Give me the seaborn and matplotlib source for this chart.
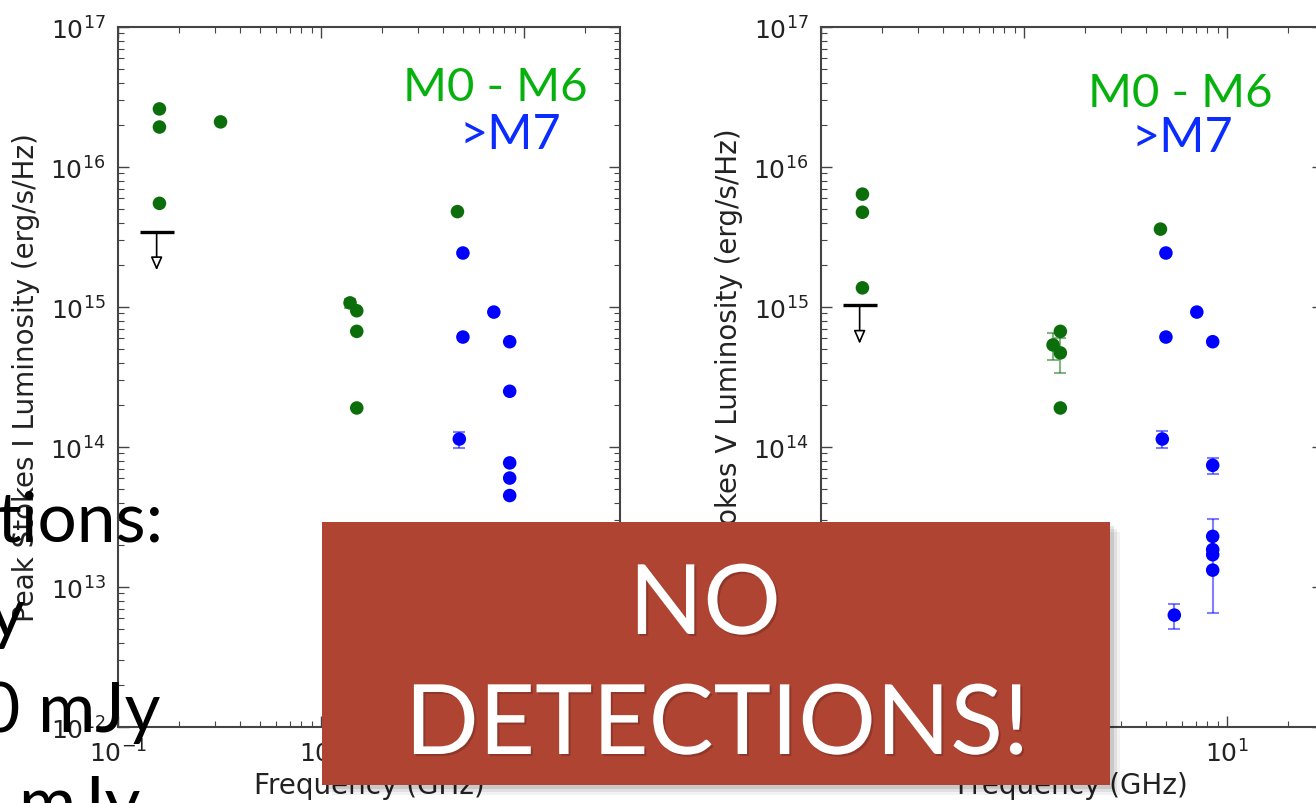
import numpy as np
import pandas as pd
import matplotlib
matplotlib.use('Agg')
import matplotlib.pyplot as plt
import matplotlib.patheffects as pe
import seaborn as sns
from matplotlib.patches import Rectangle

# ---- data ----
# left panel: peak Stokes I luminosity
mdw_freq_I = [0.16, 0.16, 0.16, 0.32, 1.39, 1.50, 1.50, 1.50, 4.7]
mdw_lum_I = [2.6e16, 1.93e16, 5.5e15, 2.1e16, 1.07e15, 9.4e14, 6.7e14, 1.9e14, 4.8e15]
mdw_err_I = [0, 0, 0, 0, 0.8e14, 0, 0, 0, 0]
ucd_freq_I = [5.0, 5.0, 7.1, 8.5, 8.5, 4.8, 8.5, 8.5, 8.5]
ucd_lum_I = [2.43e15, 6.1e14, 9.2e14, 5.65e14, 2.5e14, 1.14e14, 7.7e13, 6.0e13, 4.5e13]
ucd_err_I = [0, 0, 0, 0, 0, 1.5e13, 0, 0, 0]
limit_I = (0.155, 3.45e15)

# right panel: peak Stokes V luminosity
mdw_freq_V = [0.16, 0.16, 0.16, 1.39, 1.51, 1.51, 1.51, 4.7]
mdw_lum_V = [6.4e15, 4.75e15, 1.37e15, 5.36e14, 6.7e14, 4.7e14, 1.9e14, 3.6e15]
mdw_err_V = [0, 0, 0, 1.2e14, 0, 1.3e14, 0, 0]
ucd_freq_V = [5.0, 5.0, 7.1, 8.5, 4.8, 8.5, 8.5, 8.5, 8.5, 8.5, 5.5]
ucd_lum_V = [2.43e15, 6.1e14, 9.2e14, 5.65e14, 1.14e14, 7.4e13, 2.3e13, 1.85e13, 1.7e13, 1.32e13, 6.3e12]
ucd_err_V = [0, 0, 0, 0, 1.6e13, 1.0e13, 0, 1.2e13, 0, 0, 1.25e12]
limit_V = (0.155, 1.03e15)

slide_lines = ['tions:', 'y', '0 mJy', 'mJy']

GREEN = '#0b6e0b'
BLUE = '#0000ff'
W, H = 1316, 804


def fx(px):
    return px / W


def fy(py):
    return 1 - py / H


sns.set_style('ticks')
plt.rcParams['font.family'] = ['DejaVu Sans']

fig = plt.figure(figsize=(W / 100, H / 100), dpi=100)


def make_panel(left_px, mf, ml, me, uf, ul, ue, limit, ylabel, tag_pos):
    ax = fig.add_axes([fx(left_px), fy(728), 502 / W, 700 / H])
    df = pd.DataFrame({
        'freq': list(mf) + list(uf),
        'lum': list(ml) + list(ul),
        'cls': ['M0 - M6'] * len(mf) + ['>M7'] * len(uf),
    })
    # error bars first, faint
    for f, l, e, c in [(mf, ml, me, GREEN), (uf, ul, ue, BLUE)]:
        f, l, e = np.array(f), np.array(l), np.array(e)
        m = e > 0
        if m.any():
            ax.errorbar(f[m], l[m], yerr=e[m], fmt='none', ecolor=c, alpha=0.5,
                        capsize=4, elinewidth=1.5, capthick=1.5, zorder=2)
    sns.scatterplot(data=df, x='freq', y='lum', hue='cls',
                    palette={'M0 - M6': GREEN, '>M7': BLUE},
                    s=95, edgecolor='none', legend=False, ax=ax, zorder=3)
    # upper limit
    ax.plot([limit[0]], [limit[1]], marker='_', ms=24, mew=2.4, color='black', zorder=3)
    ax.annotate('', xy=(limit[0], limit[1] * 0.53), xytext=(limit[0], limit[1]),
                arrowprops=dict(arrowstyle='-|>,head_width=0.35,head_length=0.8',
                                lw=1.2, fc='white', ec='black',
                                shrinkA=0, shrinkB=0), zorder=3)
    ax.set_xscale('log')
    ax.set_yscale('log')
    ax.set_xlim(0.1, 29.7)
    ax.set_ylim(1e12, 1e17)
    ax.set_xlabel('Frequency (GHz)', fontsize=20, color='#222222', labelpad=3)
    ax.set_ylabel(ylabel, fontsize=20, color='#222222', labelpad=7)
    ax.tick_params(which='both', direction='in', top=True, right=True,
                   colors='#444444', labelcolor='#222222')
    ax.tick_params(which='major', length=8, width=1, labelsize=18, pad=9)
    ax.tick_params(which='minor', length=4, width=0.8)
    for sp in ax.spines.values():
        sp.set_color('#444444')
        sp.set_linewidth(1.5)
    (gx, gy), (bx, by) = tag_pos
    fig.text(fx(gx), fy(gy), 'M0 - M6', color='#06b10e', fontsize=34,
             family='Lato', ha='center', va='baseline')
    fig.text(fx(bx), fy(by), '>M7', color='#0a2cff', fontsize=35,
             family='Lato', ha='center', va='baseline')
    return ax


make_panel(118, mdw_freq_I, mdw_lum_I, mdw_err_I, ucd_freq_I, ucd_lum_I, ucd_err_I,
           limit_I, 'Peak Stokes I Luminosity (erg/s/Hz)', [(495, 101), (510, 149)])
make_panel(821, mdw_freq_V, mdw_lum_V, mdw_err_V, ucd_freq_V, ucd_lum_V, ucd_err_V,
           limit_V, 'Peak Stokes V Luminosity (erg/s/Hz)', [(1180, 107), (1182, 152)])

# leftover slide text along the left edge
for txt, x0, base in zip(slide_lines, [-4, -12, -20, 18], [542, 637, 732, 826]):
    fig.text(fx(x0), fy(base), txt, fontsize=50, family='Lato', color='black',
             ha='left', va='baseline', zorder=20)

# red banner with soft shadow
for k, a in [(10, 0.05), (7, 0.07), (4, 0.1)]:
    fig.add_artist(Rectangle((fx(322 + k), fy(786 + k)), (1110 - 322) / W, (786 - 523) / H,
                             transform=fig.transFigure, color='black', alpha=a,
                             lw=0, zorder=21))
fig.add_artist(Rectangle((fx(322), fy(786)), (1110 - 322) / W, (786 - 523) / H,
                         transform=fig.transFigure, color='#b04433', lw=0, zorder=22))
shadow = [pe.withSimplePatchShadow(offset=(1.5, -1.5), shadow_rgbFace='black', alpha=0.18)]
fig.text(fx(705), fy(635), 'NO', fontsize=70, family='Lato',
         color='white', ha='center', va='baseline', zorder=23, path_effects=shadow)
fig.text(fx(717), fy(755), 'DETECTIONS!', fontsize=70, family='Lato',
         color='white', ha='center', va='baseline', zorder=23, path_effects=shadow)

fig.savefig('out.png', dpi=100)
